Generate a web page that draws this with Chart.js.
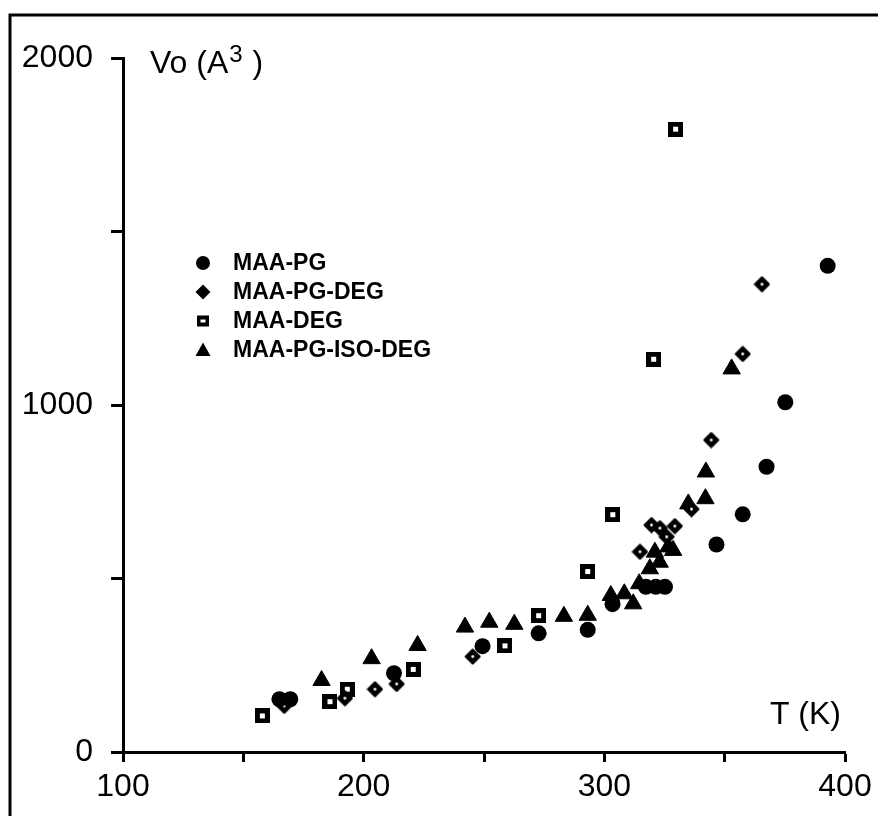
<!DOCTYPE html>
<html>
<head>
<meta charset="utf-8">
<script src="https://cdn.jsdelivr.net/npm/chart.js@4/dist/chart.umd.min.js"></script>
<style>
  html, body { margin: 0; padding: 0; background: #fff; }
  canvas { display: block; }
</style>
</head>
<body>
<canvas id="vo-chart" width="878" height="816"></canvas>
<script>
// T (K) and Vo (A^3), one pair of arrays per sample
const seriesNames = ['MAA-PG', 'MAA-PG-DEG', 'MAA-DEG', 'MAA-PG-ISO-DEG'];

const tempPG = [165, 169.5, 212.6, 249.4, 272.7, 293.1, 303.4, 317.3, 321.4, 325.2, 346.6, 357.5, 367.4, 375.2, 392.8];
const volPG  = [152, 152, 227, 305, 342, 352, 426, 476, 476, 476, 598, 685, 822, 1008, 1401];

const tempPGDEG = [167, 192.2, 204.7, 213.7, 245.3, 314.8, 319.6, 323.1, 325.9, 329.3, 336.2, 344.4, 357.5, 365.5];
const volPGDEG  = [133, 155, 181, 196, 275, 577, 654, 645, 620, 651, 700, 899, 1147, 1348];

const tempDEG = [157.9, 186, 193.2, 220.6, 258.7, 272.7, 293.1, 303.5, 320.5, 329.6];
const volDEG  = [104, 145, 181, 238, 306, 393, 520, 684, 1132, 1795];

const tempISO = [182.5, 203.3, 222.4, 242.1, 252.2, 262.6, 283.2, 293.1, 302.7, 308.3, 312, 314.5, 318.9, 321, 323, 326.6, 328.6, 334.9, 342, 342.2, 352.9];
const volISO  = [206, 269, 307, 360, 374, 368, 391, 394, 451, 456, 427, 485, 528, 576, 547, 591, 581, 715, 730, 807, 1104];

const xTicks = [100, 200, 300, 400];
const yTicks = [0, 1000, 2000];

const toPoints = (xs, ys) => xs.map((x, i) => ({x: x, y: ys[i]}));

// black diamond with a pin-hole, like the print
function makeDiamond(size) {
    const c = document.createElement('canvas');
    c.width = size; c.height = size;
    const g = c.getContext('2d');
    const m = size / 2;
    g.fillStyle = '#000';
    g.strokeStyle = '#000';
    g.lineJoin = 'round';
    g.lineWidth = 2;
    g.beginPath();
    g.moveTo(m, 1.5);
    g.lineTo(size - 1.5, m);
    g.lineTo(m, size - 1.5);
    g.lineTo(1.5, m);
    g.closePath();
    g.fill();
    g.stroke();
    g.fillStyle = '#fff';
    g.beginPath();
    g.arc(m, m, 1.4, 0, Math.PI * 2);
    g.fill();
    return c;
}

// black square with a small white centre
function makeSquare(size, hole) {
    const c = document.createElement('canvas');
    c.width = size; c.height = size;
    const g = c.getContext('2d');
    g.fillStyle = '#000';
    g.fillRect(0, 0, size, size);
    g.fillStyle = '#fff';
    g.fillRect((size - hole) / 2, (size - hole) / 2, hole, hole);
    return c;
}

const diamondImg = makeDiamond(17);
const squareImg = makeSquare(15, 5);

// frame round the figure + axis titles + legend
const figureExtras = {
    id: 'figureExtras',
    afterDraw(chart) {
        const ctx = chart.ctx;
        ctx.save();
        ctx.strokeStyle = '#000';
        ctx.lineWidth = 3;
        ctx.beginPath();
        ctx.moveTo(10, 816);
        ctx.lineTo(10, 15);
        ctx.lineTo(878, 15);
        ctx.stroke();

        ctx.fillStyle = '#000';
        ctx.textBaseline = 'alphabetic';
        ctx.font = '32px "Liberation Sans", Arial, sans-serif';
        ctx.textAlign = 'left';
        const part1 = 'Vo (A';
        ctx.fillText(part1, 150, 73);
        let w = ctx.measureText(part1).width;
        ctx.font = '24px "Liberation Sans", Arial, sans-serif';
        ctx.fillText('3', 150 + w + 1, 62);
        const w3 = ctx.measureText('3').width;
        ctx.font = '32px "Liberation Sans", Arial, sans-serif';
        ctx.fillText(' )', 150 + w + w3 + 2, 73);

        ctx.textAlign = 'right';
        ctx.fillText('T (K)', 841, 724);

        // legend
        const rows = [263, 292, 321, 350];
        ctx.font = 'bold 23px "Liberation Sans", Arial, sans-serif';
        ctx.textAlign = 'left';
        ctx.textBaseline = 'middle';
        rows.forEach((y, i) => {
            const x = 203;
            ctx.fillStyle = '#000';
            ctx.beginPath();
            if (i === 0) {
                ctx.arc(x, y, 7, 0, Math.PI * 2);
                ctx.fill();
            } else if (i === 1) {
                ctx.moveTo(x, y - 7.5);
                ctx.lineTo(x + 7.5, y);
                ctx.lineTo(x, y + 7.5);
                ctx.lineTo(x - 7.5, y);
                ctx.closePath();
                ctx.fill();
            } else if (i === 2) {
                ctx.fillRect(x - 6, y - 5.5, 12, 11);
                ctx.fillStyle = '#fff';
                ctx.fillRect(x - 2.5, y - 1.5, 5, 3);
            } else {
                ctx.moveTo(x, y - 7.5);
                ctx.lineTo(x + 7.5, y + 6);
                ctx.lineTo(x - 7.5, y + 6);
                ctx.closePath();
                ctx.fill();
            }
            ctx.fillStyle = '#000';
            ctx.fillText(seriesNames[i], 233, y + 1);
        });
        ctx.restore();
    }
};

const tickFont = {family: '"Liberation Sans", Arial, sans-serif', size: 32};

new Chart(document.getElementById('vo-chart'), {
    type: 'scatter',
    data: {
        datasets: [
            {
                label: seriesNames[0],
                data: toPoints(tempPG, volPG),
                pointStyle: 'circle',
                pointRadius: 8,
                backgroundColor: '#000',
                borderColor: '#000',
                borderWidth: 0
            },
            {
                label: seriesNames[1],
                data: toPoints(tempPGDEG, volPGDEG),
                pointStyle: diamondImg,
                pointRadius: 8,
                backgroundColor: '#000',
                borderColor: '#000'
            },
            {
                label: seriesNames[2],
                data: toPoints(tempDEG, volDEG),
                pointStyle: squareImg,
                pointRadius: 8,
                backgroundColor: '#000',
                borderColor: '#000'
            },
            {
                label: seriesNames[3],
                data: toPoints(tempISO, volISO),
                pointStyle: 'triangle',
                pointRadius: 10,
                backgroundColor: '#000',
                borderColor: '#000',
                borderWidth: 1
            }
        ]
    },
    options: {
        responsive: false,
        animation: false,
        devicePixelRatio: 1,
        layout: {padding: {top: 58, right: 33, left: 0, bottom: 0}},
        plugins: {
            legend: {display: false},
            tooltip: {enabled: false}
        },
        scales: {
            x: {
                type: 'linear',
                min: 100,
                max: 400,
                afterFit: (scale) => { scale.height = 64; },
                ticks: {
                    stepSize: 50,
                    color: '#000',
                    font: tickFont,
                    padding: 6,
                    maxRotation: 0,
                    callback: (v) => xTicks.includes(v) ? String(v) : ''
                },
                grid: {drawOnChartArea: false, drawTicks: true, tickLength: 10, tickColor: '#000', tickWidth: 3},
                border: {display: true, color: '#000', width: 3}
            },
            y: {
                type: 'linear',
                min: 0,
                max: 2000,
                afterFit: (scale) => { scale.width = 123; },
                ticks: {
                    stepSize: 500,
                    color: '#000',
                    font: tickFont,
                    padding: 18,
                    callback: (v) => yTicks.includes(v) ? String(v) : ''
                },
                grid: {drawOnChartArea: false, drawTicks: true, tickLength: 12, tickColor: '#000', tickWidth: 3},
                border: {display: true, color: '#000', width: 3}
            }
        }
    },
    plugins: [figureExtras]
});
</script>
</body>
</html>
